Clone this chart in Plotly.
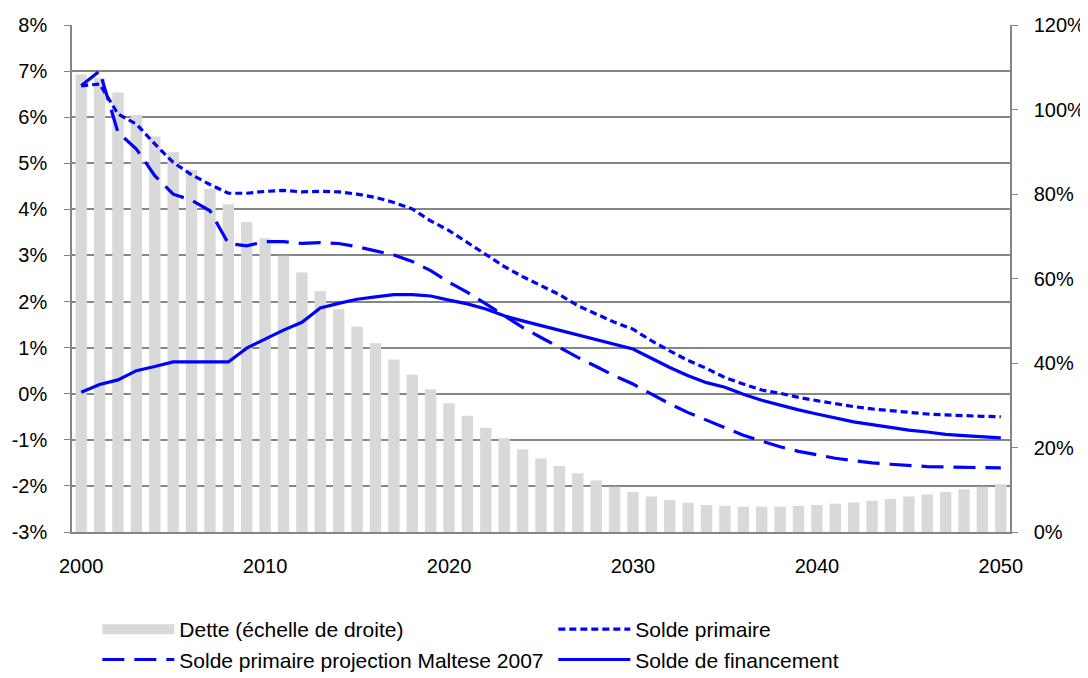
import plotly.graph_objects as go

# data
years = list(range(2000, 2051))

dette = [108.3, 107.4, 104.0, 98.7, 93.6, 89.9, 85.7, 81.2, 77.6, 73.4,
         69.5, 65.4, 61.4, 57.0, 52.7, 48.6, 44.7, 40.8, 37.2, 33.8,
         30.5, 27.5, 24.7, 22.2, 19.6, 17.4, 15.6, 13.9, 12.2, 10.7,
         9.5, 8.4, 7.6, 6.9, 6.4, 6.2, 6.0, 6.0, 6.0, 6.2,
         6.4, 6.7, 7.0, 7.4, 7.8, 8.4, 8.9, 9.5, 10.1, 10.7, 11.3]

solde_primaire = [6.68, 6.72, 6.07, 5.85, 5.42, 5.02, 4.75, 4.54, 4.35, 4.35,
                  4.39, 4.41, 4.38, 4.39, 4.38, 4.33, 4.26, 4.15, 4.01, 3.75,
                  3.54, 3.28, 3.03, 2.76, 2.54, 2.34, 2.15, 1.91, 1.73, 1.55,
                  1.40, 1.15, 0.93, 0.72, 0.55, 0.35, 0.21, 0.08, 0.01, -0.08,
                  -0.15, -0.22, -0.28, -0.33, -0.37, -0.41, -0.44, -0.46, -0.48, -0.49, -0.50]

solde_maltese = [6.68, 7.00, 5.67, 5.31, 4.73, 4.33, 4.20, 3.97, 3.26, 3.21,
                 3.30, 3.30, 3.26, 3.28, 3.26, 3.19, 3.10, 3.01, 2.87, 2.67,
                 2.42, 2.20, 1.95, 1.69, 1.44, 1.22, 1.00, 0.79, 0.59, 0.39,
                 0.21, -0.01, -0.22, -0.41, -0.57, -0.73, -0.90, -1.03, -1.15, -1.25,
                 -1.33, -1.40, -1.45, -1.50, -1.53, -1.56, -1.58, -1.59, -1.60, -1.61, -1.61]

solde_financement = [0.03, 0.20, 0.30, 0.50, 0.59, 0.69, 0.69, 0.69, 0.69, 0.99,
                     1.19, 1.38, 1.55, 1.86, 1.96, 2.05, 2.10, 2.15, 2.15, 2.12,
                     2.03, 1.95, 1.84, 1.69, 1.58, 1.48, 1.37, 1.27, 1.17, 1.08,
                     0.97, 0.77, 0.57, 0.39, 0.24, 0.14, -0.01, -0.14, -0.25, -0.35,
                     -0.44, -0.53, -0.61, -0.67, -0.73, -0.79, -0.83, -0.88, -0.91, -0.93, -0.96]

left_ticks = [-3, -2, -1, 0, 1, 2, 3, 4, 5, 6, 7, 8]
left_labels = ["-3%", "-2%", "-1%", "0%", "1%", "2%", "3%", "4%", "5%", "6%", "7%", "8%"]
right_ticks = [0, 20, 40, 60, 80, 100, 120]
right_labels = ["0%", "20%", "40%", "60%", "80%", "100%", "120%"]
x_ticks = [2000, 2010, 2020, 2030, 2040, 2050]

grey = "#868686"
blue = "#0000ff"
bar_grey = "#d9d9d9"

fig = go.Figure()

# bars on the base axis (right side) so the lines draw over them
fig.add_trace(go.Bar(
    x=years, y=dette, yaxis="y", marker=dict(color=bar_grey, line=dict(width=0)),
    width=0.62, name="Dette (échelle de droite)", showlegend=False,
))
# legend entry for the bars, drawn as a wide swatch
fig.add_trace(go.Scatter(
    x=[None], y=[None], mode="lines", yaxis="y",
    line=dict(color=bar_grey, width=16), name="Dette (échelle de droite)",
))
fig.add_trace(go.Scatter(
    x=years, y=solde_primaire, yaxis="y2", mode="lines", name="Solde primaire",
    line=dict(color=blue, width=3.2, dash="7px,4px"),
))
fig.add_trace(go.Scatter(
    x=years, y=solde_maltese, yaxis="y2", mode="lines",
    name="Solde primaire projection Maltese 2007",
    line=dict(color=blue, width=3.2, dash="22px,10px"),
))
fig.add_trace(go.Scatter(
    x=years, y=solde_financement, yaxis="y2", mode="lines", name="Solde de financement",
    line=dict(color=blue, width=3.2),
))

# page body has an 8px margin, so the figure is 8px smaller than the window
fig.update_layout(
    width=1080, height=670,
    margin=dict(l=64, r=78, t=17, b=146, autoexpand=False),
    paper_bgcolor="white", plot_bgcolor="white",
    font=dict(family="Liberation Sans, Arial, sans-serif", size=20, color="black"),
    xaxis=dict(
        range=[1999.5, 2050.5], tickvals=x_ticks, showgrid=False, zeroline=False,
        showline=True, linecolor=grey, linewidth=1.5, ticks="", ticklabelstandoff=15,
        automargin=False,
    ),
    yaxis=dict(
        side="right", range=[0, 120], tickvals=right_ticks, ticktext=right_labels,
        showgrid=False, zeroline=False, showline=True, linecolor=grey, linewidth=1.5,
        ticks="outside", ticklen=6, tickcolor=grey, ticklabelstandoff=12,
        automargin=False,
    ),
    yaxis2=dict(
        side="left", overlaying="y", range=[-3, 8], tickvals=left_ticks, ticktext=left_labels,
        showgrid=True, gridcolor=grey, gridwidth=1.5, zeroline=False,
        showline=True, linecolor=grey, linewidth=1.5,
        ticks="outside", ticklen=6, tickcolor=grey, ticklabelstandoff=13,
        automargin=False,
    ),
    legend=dict(
        orientation="h", x=0.027, y=-0.152, xanchor="left", yanchor="top",
        entrywidth=369, entrywidthmode="pixels", itemwidth=72,
        font=dict(size=21), bgcolor="rgba(0,0,0,0)", traceorder="normal",
    ),
)

fig.write_html("out.html")
